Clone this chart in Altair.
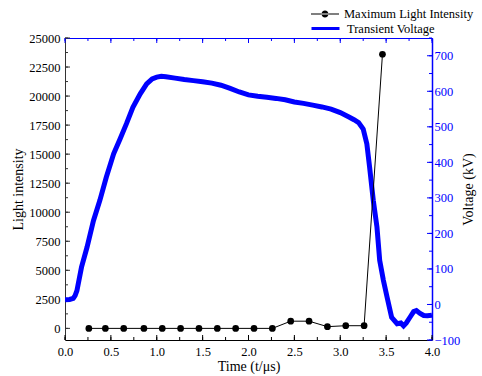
import altair as alt
import pandas as pd

# ---- data ----
volt_time = [0, 0.05, 0.09, 0.11, 0.13, 0.18, 0.24, 0.31, 0.38, 0.45, 0.53, 0.60, 0.67, 0.74,
             0.82, 0.89, 0.95, 1.0, 1.05, 1.1, 1.2, 1.3, 1.4, 1.5, 1.6, 1.7, 1.8, 1.9, 2.0,
             2.1, 2.2, 2.3, 2.4, 2.5, 2.6, 2.7, 2.8, 2.9, 3.0, 3.1, 3.15, 3.2, 3.25, 3.29,
             3.32, 3.36, 3.40, 3.43, 3.47, 3.51, 3.56, 3.62, 3.66, 3.69, 3.72, 3.76, 3.8,
             3.83, 3.87, 3.91, 3.95, 4.0]
volt_kv = [13, 14, 17, 25, 39, 105, 161, 236, 293, 358, 424, 466, 509, 555,
           593, 621, 635, 640, 642, 641, 637, 633, 630, 627, 623, 617, 608, 598, 590,
           586, 583, 580, 576, 570, 566, 561, 556, 550, 540, 527, 520, 512, 494, 452,
           386, 293, 218, 124, 68, 21, -36, -54, -52, -60, -52, -36, -20,
           -17, -25, -31, -32, -30]

light_time = [0.26, 0.44, 0.64, 0.86, 1.06, 1.26, 1.46, 1.66, 1.86, 2.06, 2.26,
              2.46, 2.66, 2.86, 3.06, 3.26, 3.46]
light_val = [0, 0, 0, 0, 0, 0, 0, 0, 0, 0, 0, 620, 620, 150, 230, 230, 23600]

light_name = "Maximum Light Intensity"
volt_name = "Transient Voltage"

x_minor = [i * 0.25 for i in range(17)]
x_major = [i * 0.5 for i in range(9)]
l_minor = list(range(0, 25001, 1250))
l_major = list(range(0, 25001, 2500))
v_minor = list(range(-100, 751, 50))
v_major = list(range(-100, 701, 100))

W, H = 367, 302
FONT = "Liberation Serif"
BLUE = "#0000FF"
DARK = "#333333"

vdf = pd.DataFrame({"t": volt_time, "v": volt_kv, "series": volt_name})
ldf = pd.DataFrame({"t": light_time, "L": light_val, "series": light_name})

xscale = alt.Scale(domain=[0, 4], nice=False, zero=False)
vscale = alt.Scale(domain=[-100, 750], nice=False, zero=False)
lscale = alt.Scale(domain=[-1000, 25000], nice=False, zero=False)

circ_path = ("M-1,-0.036L1,-0.036L1,0.036L-1,0.036Z"
             "M-0.25,0A0.25,0.25,0,1,0,0.25,0A0.25,0.25,0,1,0,-0.25,0Z")

light_legend = alt.Legend(title=None, orient="none", legendX=245, legendY=-39,
                          symbolType=circ_path, symbolSize=784, labelOffset=4,
                          labelFont=FONT, labelFontSize=12.5, labelColor="black",
                          symbolOpacity=1)
volt_legend = alt.Legend(title=None, orient="none", legendX=245, legendY=-25,
                         symbolType="stroke", symbolSize=784, symbolStrokeWidth=3,
                         labelOffset=6, labelFont=FONT, labelFontSize=12.5,
                         labelColor="black", symbolOpacity=1)

ax_bottom = alt.Axis(orient="bottom", values=x_major, format=".1f", ticks=False,
                     domain=True, domainColor="black", domainWidth=1, grid=False,
                     labelFlush=False,
                     labelFont=FONT, labelFontSize=12.5, labelColor="black", labelPadding=5,
                     title="Time (t/\u03bcs)", titleFont=FONT, titleFontSize=14,
                     titleFontWeight="normal", titleColor="black", titlePadding=2)
ax_top = alt.Axis(orient="top", values=x_major, labels=False, ticks=False, domain=True,
                  domainColor=BLUE, grid=False, title=None)
ay_left = alt.Axis(orient="left", values=l_major, format="d", ticks=False, domain=True,
                   domainColor=DARK, grid=False, labelFlush=False, labelFont=FONT,
                   labelFontSize=12.5, labelColor="black", labelPadding=5,
                   title="Light intensity", titleFont=FONT, titleFontSize=14,
                   titleFontWeight="normal", titleColor="black", titlePadding=3)
ay_right = alt.Axis(orient="right", values=v_major, format="d", ticks=False, domain=True,
                    domainColor=BLUE, domainWidth=1.5, grid=False, labelFlush=False,
                    labelFont=FONT, labelFontSize=12.5, labelColor=BLUE, labelPadding=2,
                    title="Voltage (kV)", titleFont=FONT, titleFontSize=14,
                    titleFontWeight="normal", titleColor="black", titleAngle=270,
                    titlePadding=16)


# inward tick marks drawn as short rules at the tick values, through the scales
def x_ticks_layer(vals, edge_y, length, color):
    direction = -1 if edge_y == H else 1
    return alt.Chart(pd.DataFrame({"t": vals})).mark_rule(color=color, strokeWidth=1).encode(
        x=alt.X("t:Q", scale=xscale, axis=None),
        y=alt.value(edge_y), y2=alt.value(edge_y + direction * length),
    )


def y_ticks_layer(vals, scale, edge_x, length, color):
    direction = -1 if edge_x == W else 1
    return alt.Chart(pd.DataFrame({"y": vals})).mark_rule(color=color, strokeWidth=1).encode(
        y=alt.Y("y:Q", scale=scale, axis=None),
        x=alt.value(edge_x), x2=alt.value(edge_x + direction * length),
    )


tick_layers = [
    x_ticks_layer(x_minor, H, 3, "black"), x_ticks_layer(x_major, H, 5, "black"),
    x_ticks_layer(x_minor, 0, 3, BLUE), x_ticks_layer(x_major, 0, 5, BLUE),
    y_ticks_layer(l_minor, lscale, 0, 3, DARK), y_ticks_layer(l_major, lscale, 0, 5, DARK),
    y_ticks_layer(v_minor, vscale, W, 3, BLUE), y_ticks_layer(v_major, vscale, W, 5, BLUE),
]

top_frame = alt.Chart(vdf).mark_point(opacity=0).encode(
    x=alt.X("t:Q", scale=xscale, axis=ax_top),
    y=alt.Y("v:Q", scale=vscale, axis=None),
)
volt_line = alt.Chart(vdf).mark_line(strokeWidth=5, clip=True).encode(
    x=alt.X("t:Q", scale=xscale, axis=ax_bottom),
    y=alt.Y("v:Q", scale=vscale, axis=ay_right),
    stroke=alt.Stroke("series:N", scale=alt.Scale(domain=[volt_name], range=[BLUE]),
                      legend=volt_legend),
)
light_line = alt.Chart(ldf).mark_line(strokeWidth=1, color="black").encode(
    x=alt.X("t:Q", scale=xscale, axis=None),
    y=alt.Y("L:Q", scale=lscale, axis=ay_left),
)
light_points = alt.Chart(ldf).mark_point(filled=True, size=45, opacity=1).encode(
    x=alt.X("t:Q", scale=xscale, axis=None),
    y=alt.Y("L:Q", scale=lscale, axis=None),
    fill=alt.Fill("series:N", scale=alt.Scale(domain=[light_name], range=["black"]),
                  legend=light_legend),
)

chart = alt.layer(
    top_frame, *tick_layers, volt_line, light_line, light_points,
).resolve_scale(y="independent").resolve_axis(x="independent", y="independent").properties(
    width=W, height=H,
    autosize=alt.AutoSizeParams(type="none"),
    padding={"left": 65, "top": 38, "right": 50, "bottom": 36},
    background="white",
).configure_view(stroke=None).configure(font=FONT)

chart.save("out.html", embed_options={"renderer": "svg", "actions": False})
